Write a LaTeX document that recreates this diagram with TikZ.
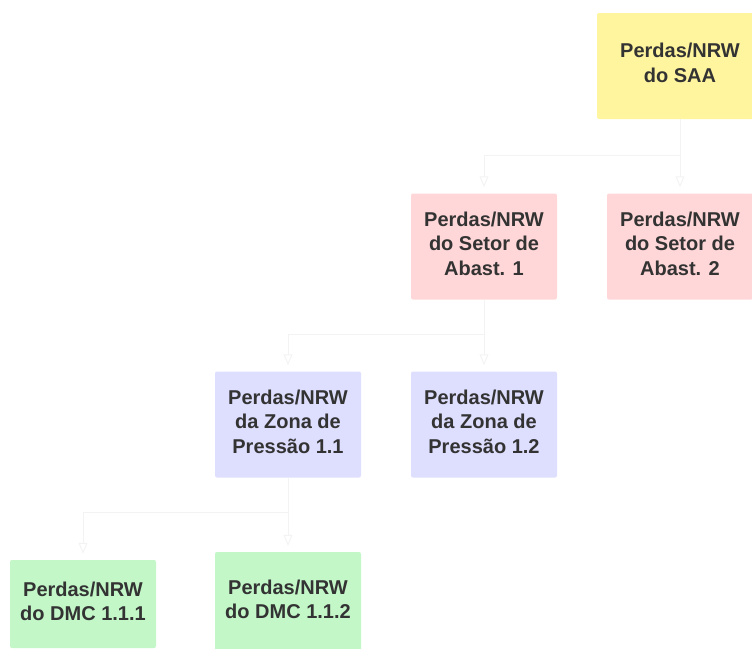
\documentclass[tikz,border=0pt]{standalone}
\usepackage{fontspec}
\setmainfont{Liberation Sans}
\usetikzlibrary{arrows.meta}
\definecolor{saafill}{HTML}{FFF59F}
\definecolor{setorfill}{HTML}{FFD7D8}
\definecolor{zonafill}{HTML}{DEDEFF}
\definecolor{dmcfill}{HTML}{C3F7C8}
\definecolor{boxtext}{HTML}{333333}
\definecolor{linkline}{HTML}{F3F3F3}
\tikzset{
  box/.style={rounded corners=2pt, minimum width=146pt, minimum height=106pt,
    align=center, inner sep=0pt, text=boxtext, text depth=6pt,
    font=\fontsize{20}{24.5}\selectfont\bfseries},
  link/.style={draw=linkline, line width=1pt,
    -{Triangle[open,length=11pt,width=9pt]}, shorten >=6pt}
}
\begin{document}
\begin{tikzpicture}[x=1pt,y=-1pt]
\useasboundingbox (0,0) rectangle (752,648);
\clip (0,0) rectangle (752,648);
\node[box,fill=saafill,minimum width=166pt] (saa) at (680,66) {Perdas/NRW\\do SAA};
\node[box,fill=setorfill] (set1) at (484,246.5) {Perdas/NRW\\do Setor de\\Abast. 1};
\node[box,fill=setorfill] (set2) at (680,246.5) {Perdas/NRW\\do Setor de\\Abast. 2};
\node[box,fill=zonafill] (zon11) at (288,424.5) {Perdas/NRW\\da Zona de\\Pressão 1.1};
\node[box,fill=zonafill] (zon12) at (484,424.5) {Perdas/NRW\\da Zona de\\Pressão 1.2};
\node[box,fill=dmcfill,minimum height=88pt] (dmc111) at (83,604) {Perdas/NRW\\do DMC 1.1.1};
\node[box,fill=dmcfill,minimum height=100pt] (dmc112) at (288,602) {Perdas/NRW\\do DMC 1.1.2};
\draw[link] (saa.south) -- ++(0,36) -| (set1.north);
\draw[link] (saa.south) -- (set2.north);
\draw[link] (set1.south) -- ++(0,35) -| (zon11.north);
\draw[link] (set1.south) -- (zon12.north);
\draw[link] (zon11.south) -- ++(0,35) -| (dmc111.north);
\draw[link] (zon11.south) -- (dmc112.north);
\end{tikzpicture}
\end{document}
